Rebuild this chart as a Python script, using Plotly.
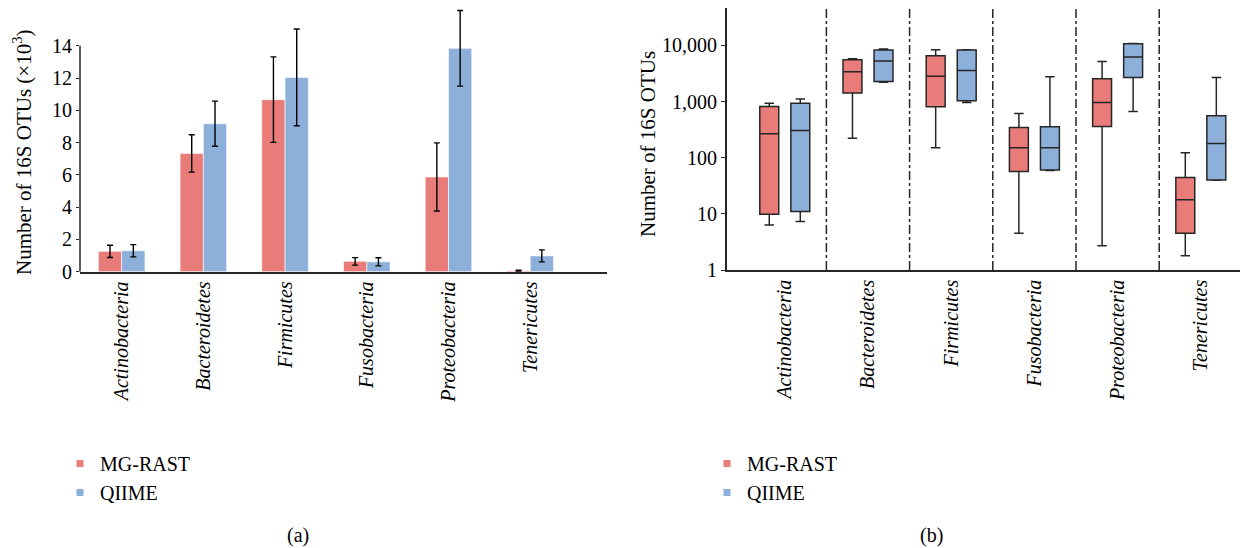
import plotly.graph_objects as go

# ---------------- data ----------------
categories = ["Actinobacteria", "Bacteroidetes", "Firmicutes",
              "Fusobacteria", "Proteobacteria", "Tenericutes"]

# (a) mean number of 16S OTUs (x10^3) with error
mgrast_mean = [1.26, 7.33, 10.66, 0.64, 5.87, 0.06]
mgrast_err = [0.38, 1.16, 2.65, 0.23, 2.11, 0.03]
qiime_mean = [1.30, 9.17, 12.04, 0.61, 13.84, 0.98]
qiime_err = [0.38, 1.40, 3.00, 0.25, 2.34, 0.37]

# (b) box plot summaries (log scale)
mgrast_low = [6.3, 222, 151, 4.5, 2.7, 1.8]
mgrast_q1 = [9.8, 1413, 805, 56.5, 358, 4.5]
mgrast_med = [266, 3380, 2830, 150, 960, 17.9]
mgrast_q3 = [815, 5540, 6540, 344, 2540, 44.2]
mgrast_high = [936, 5770, 8350, 611, 5160, 122]

qiime_low = [7.3, 2200, 960, 59, 664, 39.5]
qiime_q1 = [11.0, 2275, 1029, 60.6, 2680, 40]
qiime_med = [304, 5250, 3570, 151, 6180, 178]
qiime_q3 = [936, 8240, 8240, 354, 10700, 556]
qiime_high = [1104, 8590, 8350, 2755, 10800, 2680]

series_names = ["MG-RAST", "QIIME"]
y_ticks_a = [0, 2, 4, 6, 8, 10, 12, 14]
y_ticks_b = [1, 10, 100, 1000, 10000]
y_ticktext_b = ["1", "10", "100", "1,000", "10,000"]

# ---------------- style ----------------
RED = "#E97B79"
BLUE = "#8DB0DB"
EDGE = "#262626"
FONT = "Liberation Serif"
W, H = 1240, 548

fig = go.Figure()

# (a) bars
fig.add_trace(go.Bar(
    x=categories, y=mgrast_mean, name=series_names[0], showlegend=False,
    marker=dict(color=RED, line=dict(color="rgba(255,255,255,0.6)", width=1)),
    error_y=dict(type="data", array=mgrast_err, color="black", thickness=1.4, width=3),
    xaxis="x", yaxis="y"))
fig.add_trace(go.Bar(
    x=categories, y=qiime_mean, name=series_names[1], showlegend=False,
    marker=dict(color=BLUE, line=dict(color="rgba(255,255,255,0.6)", width=1)),
    error_y=dict(type="data", array=qiime_err, color="black", thickness=1.4, width=3),
    xaxis="x", yaxis="y"))

# (b) boxes
fig.add_trace(go.Box(
    x=categories, q1=mgrast_q1, median=mgrast_med, q3=mgrast_q3,
    lowerfence=mgrast_low, upperfence=mgrast_high, name=series_names[0],
    fillcolor=RED, line=dict(color=EDGE, width=1.5), boxpoints=False,
    showlegend=False, xaxis="x2", yaxis="y2"))
fig.add_trace(go.Box(
    x=categories, q1=qiime_q1, median=qiime_med, q3=qiime_q3,
    lowerfence=qiime_low, upperfence=qiime_high, name=series_names[1],
    fillcolor=BLUE, line=dict(color=EDGE, width=1.5), boxpoints=False,
    showlegend=False, xaxis="x2", yaxis="y2"))

# legend entries (small squares)
for lg, xa, ya in (("legend", "x", "y"), ("legend2", "x2", "y2")):
    for nm, col in zip(series_names, (RED, BLUE)):
        fig.add_trace(go.Scatter(
            x=[None], y=[None], mode="markers", name=nm, legend=lg,
            legendgroup=lg + nm,
            marker=dict(symbol="square", size=7, color=col),
            xaxis=xa, yaxis=ya))

# axis geometry (pixels -> paper)
ax_a_left, ax_a_right = 80, 607
ax_a_bottom, ax_a_top = 271.7, 5.4
ax_b_left, ax_b_right = 726.7, 1240
ax_b_bottom, ax_b_top = 270, 8.3

tickfont = dict(family=FONT, size=20, color="black")
catfont = dict(family=FONT, size=20, color="black", style="italic")

fig.update_layout(
    width=W, height=H,
    margin=dict(l=0, r=0, t=0, b=0),
    paper_bgcolor="white", plot_bgcolor="white",
    font=dict(family=FONT, color="black"),
    barmode="group", bargap=0.43, bargroupgap=0,
    boxmode="group", boxgap=0.254, boxgroupgap=0.39,
    xaxis=dict(
        domain=[ax_a_left / W, ax_a_right / W], range=[-0.51, 5.94],
        anchor="y",
        showline=True, linecolor=EDGE, linewidth=1.5, ticks="",
        tickangle=-90, tickfont=catfont, automargin=False, showgrid=False),
    yaxis=dict(
        domain=[(H - ax_a_bottom) / H, (H - ax_a_top) / H], range=[0, 16.5],
        anchor="x",
        tickvals=y_ticks_a, ticks="outside", ticklen=3, tickcolor=EDGE,
        showline=False, zeroline=False, showgrid=False,
        tickfont=tickfont, automargin=False),
    xaxis2=dict(
        domain=[ax_b_left / W, ax_b_right / W], range=[-0.698, 5.471],
        anchor="y2",
        showline=True, linecolor=EDGE, linewidth=1.5, ticks="",
        tickangle=-90, tickfont=catfont, automargin=False, showgrid=False),
    yaxis2=dict(
        domain=[(H - ax_b_bottom) / H, (H - ax_b_top) / H],
        anchor="x2",
        type="log", range=[0, 4.66],
        tickvals=y_ticks_b, ticktext=y_ticktext_b,
        ticks="outside", ticklen=4, tickcolor=EDGE,
        showline=True, linecolor=EDGE, linewidth=1.5,
        zeroline=False, showgrid=False, tickfont=tickfont, automargin=False),
    legend=dict(
        x=60 / W, y=(H - 444) / H, xanchor="left", yanchor="top",
        font=dict(family=FONT, size=20), traceorder="grouped",
        tracegroupgap=0, bgcolor="rgba(0,0,0,0)"),
    legend2=dict(
        x=707 / W, y=(H - 444) / H, xanchor="left", yanchor="top",
        font=dict(family=FONT, size=20), traceorder="grouped",
        tracegroupgap=0, bgcolor="rgba(0,0,0,0)"),
)

# left y axis line only up to the last tick
fig.add_shape(type="line", xref="x domain", yref="y",
              x0=0, x1=0, y0=0, y1=max(y_ticks_a),
              line=dict(color=EDGE, width=1.5))

# dash-dot separators between categories in (b)
for i in range(len(categories) - 1):
    fig.add_shape(type="line", xref="x2", yref="y2 domain",
                  x0=i + 0.5, x1=i + 0.5, y0=0, y1=1,
                  line=dict(color=EDGE, width=1.5, dash="dashdot"))

# axis titles and panel labels
fig.add_annotation(text="Number of 16S OTUs (×10<sup>3</sup>)",
                   x=22 / W, y=(H - 152) / H, xref="paper", yref="paper",
                   xanchor="center", yanchor="middle",
                   textangle=-90, showarrow=False,
                   font=dict(family=FONT, size=21, color="black"))
fig.add_annotation(text="Number of 16S OTUs",
                   x=648 / W, y=(H - 144) / H, xref="paper", yref="paper",
                   xanchor="center", yanchor="middle",
                   textangle=-90, showarrow=False,
                   font=dict(family=FONT, size=21, color="black"))
fig.add_annotation(text="(a)", x=298 / W, y=(H - 535) / H,
                   xref="paper", yref="paper", showarrow=False,
                   xanchor="center", yanchor="middle",
                   font=dict(family=FONT, size=20, color="black"))
fig.add_annotation(text="(b)", x=931 / W, y=(H - 535) / H,
                   xref="paper", yref="paper", showarrow=False,
                   xanchor="center", yanchor="middle",
                   font=dict(family=FONT, size=20, color="black"))

fig.write_html("out.html",
               config={"displayModeBar": False},
               post_script="document.body.style.margin='0';"
                           "document.body.style.overflow='hidden';")
